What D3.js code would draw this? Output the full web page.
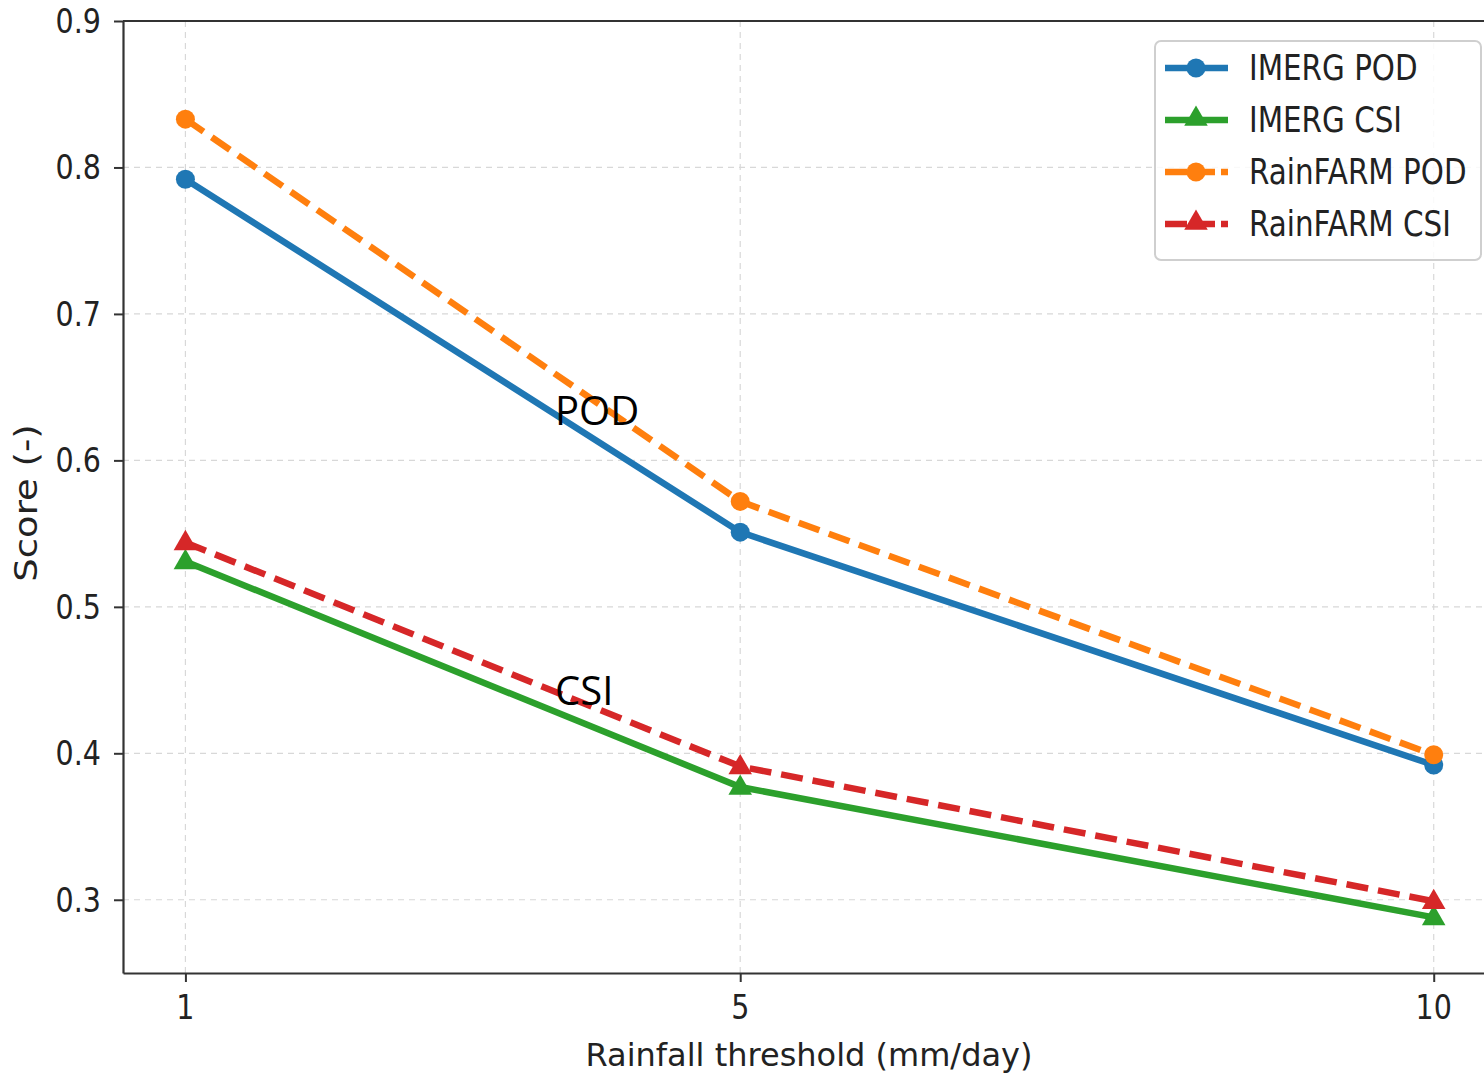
<!DOCTYPE html>
<head>
  <meta charset="utf-8">
  <script src="https://cdn.jsdelivr.net/npm/d3@7"></script>
  <style>
    body { margin: 0; background: #fff; }
    text { font-family: "DejaVu Sans", sans-serif; fill: #222; }
  </style>
</head>
<body>
<script>
  // thresholds (mm/day) and scores
  var thresholds = [1, 5, 10]
  var imergPod = [0.792, 0.551, 0.392]
  var imergCsi = [0.531, 0.377, 0.288]
  var rainfarmPod = [0.833, 0.572, 0.399]
  var rainfarmCsi = [0.544, 0.391, 0.299]
  var yTicks = [0.3, 0.4, 0.5, 0.6, 0.7, 0.8, 0.9]

  var series = [
    {name: "IMERG POD", values: imergPod, color: "#1f77b4", marker: "circle", dash: null},
    {name: "IMERG CSI", values: imergCsi, color: "#2ca02c", marker: "triangle", dash: null},
    {name: "RainFARM POD", values: rainfarmPod, color: "#ff7f0e", marker: "circle", dash: "22,10"},
    {name: "RainFARM CSI", values: rainfarmCsi, color: "#d62728", marker: "triangle", dash: "22,10"}
  ]

  var W = 1484, H = 1078
  var margin = {top: 21, left: 123, bottom: 105}
  var squish = 0.84   // the original picture is narrowed horizontally

  var svg = d3.select("body").append("svg")
              .attr("width", W).attr("height", H)

  var x = d3.scaleLinear().domain([0.55, 10.45]).range([margin.left, margin.left + 9.9 * 138.7])
  var y = d3.scaleLinear().domain([0.25, 0.9]).range([H - margin.bottom, margin.top])

  function label(g, tx, ty, str, size, anchor, sx, rot) {
    return g.append("text")
      .attr("transform", "translate(" + tx + "," + ty + ") scale(" + sx + ",1)" + (rot ? " rotate(" + rot + ")" : ""))
      .attr("text-anchor", anchor)
      .style("font-size", size + "px")
      .text(str)
  }

  // grid
  var grid = svg.append("g")
  grid.selectAll(".gx").data(thresholds).enter().append("line")
      .attr("x1", d => x(d)).attr("x2", d => x(d))
      .attr("y1", y(0.25)).attr("y2", y(0.9))
      .attr("stroke", "#d8d8d8").attr("stroke-width", 1.2).attr("stroke-dasharray", "6,5")
  grid.selectAll(".gy").data(yTicks).enter().append("line")
      .attr("x1", margin.left).attr("x2", W)
      .attr("y1", d => y(d)).attr("y2", d => y(d))
      .attr("stroke", "#d8d8d8").attr("stroke-width", 1.2).attr("stroke-dasharray", "6,5")

  // axes
  svg.append("g")
     .attr("transform", "translate(0," + y(0.25) + ")")
     .call(d3.axisBottom(x).tickValues(thresholds).tickSize(9).tickSizeOuter(0).tickFormat(""))
  svg.append("g")
     .attr("transform", "translate(" + margin.left + ",0)")
     .call(d3.axisLeft(y).tickValues(yTicks).tickSize(9).tickSizeOuter(0).tickFormat(""))
  svg.selectAll(".domain").attr("stroke", "#333").attr("stroke-width", 2.2)
  svg.selectAll(".tick line").attr("stroke", "#333").attr("stroke-width", 2)
  // top spine
  svg.append("line").attr("x1", margin.left).attr("x2", W)
     .attr("y1", y(0.9)).attr("y2", y(0.9))
     .attr("stroke", "#333").attr("stroke-width", 2.2)

  thresholds.forEach(function(t) {
    label(svg, x(t), y(0.25) + 46, String(t), 34, "middle", squish)
  })
  yTicks.forEach(function(t) {
    label(svg, margin.left - 22, y(t) + 12, t.toFixed(1), 34, "end", squish)
  })
  label(svg, 809, 1066, "Rainfall threshold (mm/day)", 32, "middle", 1)
  label(svg, 37, 503, "Score (-)", 37, "middle", squish, -90)

  // lines and markers
  var line = d3.line().x((d, i) => x(thresholds[i])).y(d => y(d))
  var tri = d3.symbol().type(d3.symbolTriangle).size(240)

  series.forEach(function(s) {
    svg.append("path").datum(s.values)
       .attr("d", line)
       .attr("fill", "none")
       .attr("stroke", s.color)
       .attr("stroke-width", 6.5)
       .attr("stroke-dasharray", s.dash)
    s.values.forEach(function(v, i) {
      if (s.marker == "circle") {
        svg.append("circle").attr("cx", x(thresholds[i])).attr("cy", y(v))
           .attr("r", 9.5).attr("fill", s.color)
      } else {
        svg.append("path").attr("d", tri)
           .attr("transform", "translate(" + x(thresholds[i]) + "," + (y(v) + 1) + ")")
           .attr("fill", s.color)
      }
    })
  })

  // annotations added on top of the figure
  svg.append("text").attr("x", 555).attr("y", 425)
     .style("font-family", "'Open Sans', sans-serif").style("font-size", "40px").style("fill", "#000")
     .text("POD")
  svg.append("text").attr("x", 555).attr("y", 705)
     .style("font-family", "'Open Sans', sans-serif").style("font-size", "40px").style("fill", "#000")
     .text("CSI")

  // legend
  var lg = svg.append("g")
  lg.append("rect").attr("x", 1155).attr("y", 41).attr("width", 326).attr("height", 219)
    .attr("rx", 6).attr("fill", "#fff").attr("fill-opacity", 0.85)
    .attr("stroke", "#cfcfcf").attr("stroke-width", 2)
  series.forEach(function(s, i) {
    var ly = 68 + i * 52
    lg.append("line").attr("x1", 1165).attr("x2", 1228).attr("y1", ly).attr("y2", ly)
      .attr("stroke", s.color).attr("stroke-width", 6.5)
      .attr("stroke-dasharray", s.dash ? "22,6" : null)
    if (s.marker == "circle") {
      lg.append("circle").attr("cx", 1196).attr("cy", ly).attr("r", 9.5).attr("fill", s.color)
    } else {
      lg.append("path").attr("d", tri).attr("transform", "translate(1196," + (ly - 1) + ")").attr("fill", s.color)
    }
    label(lg, 1249, ly + 12, s.name, 35, "start", squish)
  })
</script>
</body>
